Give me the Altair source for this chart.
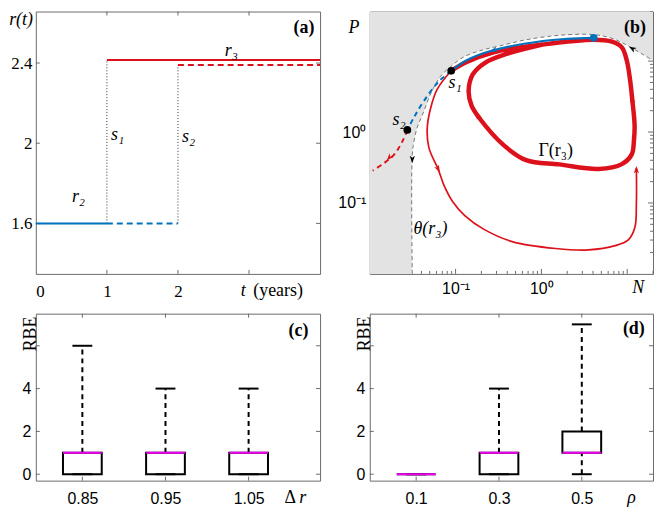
import altair as alt
import pandas as pd

SERIF = "'Liberation Serif', 'Times New Roman', serif"
SANS = "'Liberation Sans', Arial, sans-serif"
BLUE = "#0072BD"
RED = "#DD111B"
MAGENTA = "#F000F0"
FRAME = "#6b6b6b"
SHADE = "#E3E3E3"
W_L, W_R = 286, 285
H_TOP, H_BOT = 264, 168
TICK = 4

# ---------------- panel (a): r(t) ----------------
A_T_START = 0.0
A_T_S1 = 1.0
A_T_S2 = 2.0
A_T_END = 4.0
A_R2 = 1.6
A_R3_S1 = 2.415
A_R3_S2 = 2.39
A_XLABELS = [0, 1, 2]
A_XTICKS = [1, 2, 3]
A_YTICKS = [1.6, 2.0, 2.4]
A_NOTE = ["r₂", "s₁", "s₂", "r₃"]
A_NOTE_T = [0.60, 1.15, 2.15, 2.75]
A_NOTE_R = [1.734, 2.04, 2.03, 2.462]

# ---------------- panel (b): phase plane (N, P) ----------------
B_THETA_N = [0.0313, 0.0313, 0.0330, 0.0358, 0.0408, 0.0519, 0.0664, 0.0867, 0.124,
             0.192, 0.327, 0.664, 1.60, 3.94, 6.35, 9.46, 14.9, 20.0]
B_THETA_P = [0.0100, 0.484, 0.778, 1.17, 1.71, 3.57, 6.04, 8.28, 11.4,
             14.0, 16.4, 20.0, 23.1, 23.7, 21.3, 17.3, 12.6, 10.2]
B_BLUE_N = [4.07, 2.0, 1.04, 0.274, 0.135, 0.0889]
B_BLUE_P = [21.3, 20.6, 19.2, 14.2, 10.3, 7.3]
B_BLUEDASH_N = [0.0889, 0.0637, 0.0428, 0.0328, 0.0274]
B_BLUEDASH_P = [7.3, 5.16, 2.75, 1.62, 1.07]
B_REDDASH_N = [0.0274, 0.0240, 0.0193, 0.0145, 0.0108]
B_REDDASH_P = [1.07, 0.738, 0.484, 0.36, 0.286]
B_THIN_N = [0.0889, 0.0608, 0.0509, 0.0467, 0.0489, 0.0625, 0.0733, 0.0931, 0.128, 0.212,
            0.467, 1.47, 3.54, 7.25, 10.3, 12.3, 12.8, 12.8]
B_THIN_P = [7.3, 3.97, 2.11, 1.12, 0.598, 0.302, 0.177, 0.103, 0.0664, 0.0428,
            0.0283, 0.0228, 0.0218, 0.0250, 0.0302, 0.0455, 0.100, 0.31]
B_CYCLE_N = [0.0889, 0.135, 0.277, 1.03, 4.04, 6.64, 8.66, 9.89, 10.8, 11.5, 12.2, 12.0,
             11.3, 8.66, 4.65, 1.61, 0.664, 0.358, 0.192, 0.154, 0.142, 0.158, 0.218,
             0.391, 1.03]
B_CYCLE_P = [7.3, 9.7, 13.3, 17.1, 20.0, 18.8, 15.6, 10.2, 5.45, 2.75, 1.25, 0.778,
             0.484, 0.353, 0.302, 0.350, 0.401, 0.664, 1.54, 2.34, 3.77, 6.44, 9.40,
             12.6, 17.1]
B_SWITCH_N = [0.0889, 0.0274]
B_SWITCH_P = [7.3, 1.07]
B_EQ_N = [4.07]
B_EQ_P = [21.3]
B_ARROW_N = [0.192, 11.5, 0.0625, 12.8, 0.277, 0.0169, 0.0313, 11.5]
B_ARROW_P = [1.54, 2.90, 0.302, 0.292, 14.2, 0.436, 0.414, 15.0]
B_ARROW_ANGLE = [140, 355, 153, 0, 254, 220, 180, 300]
B_ARROW_KIND = ["red", "red", "red", "red", "blue", "red", "black", "black"]
B_MAJOR = [0.1, 1, 10]
B_MINOR_X = [k * 10.0 ** e for e in (-2, -1, 0, 1) for k in range(2, 10) if k * 10.0 ** e <= 20]
B_MINOR_Y = [k * 10.0 ** e for e in (-2, -1, 0, 1) for k in range(2, 10) if k * 10.0 ** e <= 50]

# ---------------- panels (c), (d): box plots of RBE ----------------
C_LABELS = ["0.85", "0.95", "1.05"]
C_Q1 = [0, 0, 0]
C_MED = [1, 1, 1]
C_Q3 = [1, 1, 1]
C_LO = [0, 0, 0]
C_HI = [6, 4, 4]
D_LABELS = ["0.1", "0.3", "0.5"]
D_Q1 = [0, 0, 1]
D_MED = [0, 1, 1]
D_Q3 = [0, 1, 2]
D_LO = [0, 0, 0]
D_HI = [0, 4, 7]
BOX_POS = [1, 2, 3]
BOX_YTICKS = [0, 2, 4, 6]


def side_ticks(xvals, yvals, xenc, yenc, W, H, sides=("b", "t", "l", "r"), length=TICK):
    out = []
    dfx = pd.DataFrame({"v": xvals})
    dfy = pd.DataFrame({"v": yvals})
    if "b" in sides:
        out.append(alt.Chart(dfx).mark_rule(color=FRAME, strokeWidth=1).encode(
            x=xenc("v"), y=alt.value(H), y2=alt.value(H - length)))
    if "t" in sides:
        out.append(alt.Chart(dfx).mark_rule(color=FRAME, strokeWidth=1).encode(
            x=xenc("v"), y=alt.value(0), y2=alt.value(length)))
    if "l" in sides:
        out.append(alt.Chart(dfy).mark_rule(color=FRAME, strokeWidth=1).encode(
            y=yenc("v"), x=alt.value(0), x2=alt.value(length)))
    if "r" in sides:
        out.append(alt.Chart(dfy).mark_rule(color=FRAME, strokeWidth=1).encode(
            y=yenc("v"), x=alt.value(W), x2=alt.value(W - length)))
    return out


# ================= panel (a) =================
A_XS = alt.Scale(domain=[0, 4], nice=False, zero=False)
A_YS = alt.Scale(domain=[1.348, 2.657], nice=False, zero=False)
A_XAX = alt.Axis(values=A_XLABELS, title=None, labelFont=SERIF, labelFontSize=17,
                 labelPadding=10, labelAngle=0)
A_YAX = alt.Axis(values=A_YTICKS, title=None, format="~g", labelFont=SERIF,
                 labelFontSize=17, labelPadding=4)


def XA(f):
    return alt.X(f, type="quantitative", scale=A_XS, axis=A_XAX)


def YA(f):
    return alt.Y(f, type="quantitative", scale=A_YS, axis=A_YAX)


a_layers = side_ticks(A_XTICKS, A_YTICKS, XA, YA, W_L, H_TOP)
a_layers.append(alt.Chart(pd.DataFrame({
    "t": [A_T_S1, A_T_S2], "r": [A_R2, A_R2], "r2": [A_R3_S1, A_R3_S2]})).mark_rule(
    color="#333333", strokeWidth=1, strokeDash=[1, 2]).encode(x=XA("t"), y=YA("r"), y2="r2"))
a_layers.append(alt.Chart(pd.DataFrame({"t": [A_T_S1], "t2": [A_T_S2], "r": [A_R2]})).mark_rule(
    color=BLUE, strokeWidth=2, strokeDash=[6, 4]).encode(x=XA("t"), x2="t2", y=YA("r")))
a_layers.append(alt.Chart(pd.DataFrame({"t": [A_T_START], "t2": [A_T_S1], "r": [A_R2]})).mark_rule(
    color=BLUE, strokeWidth=2).encode(x=XA("t"), x2="t2", y=YA("r")))
a_layers.append(alt.Chart(pd.DataFrame({"t": [A_T_S2], "t2": [A_T_END], "r": [A_R3_S2]})).mark_rule(
    color=RED, strokeWidth=2, strokeDash=[6, 4]).encode(x=XA("t"), x2="t2", y=YA("r")))
a_layers.append(alt.Chart(pd.DataFrame({"t": [A_T_S1], "t2": [A_T_END], "r": [A_R3_S1]})).mark_rule(
    color=RED, strokeWidth=2).encode(x=XA("t"), x2="t2", y=YA("r")))
a_layers.append(alt.Chart(pd.DataFrame({"t": A_NOTE_T, "r": A_NOTE_R, "s": A_NOTE})).mark_text(
    font=SERIF, fontSize=18, fontStyle="italic").encode(x=XA("t"), y=YA("r"), text="s:N"))
a_layers.append(alt.Chart(pd.DataFrame({"t": [-0.04], "r": [2.616], "s": ["r(t)"]})).mark_text(
    font=SERIF, fontSize=18, fontStyle="italic", align="right").encode(x=XA("t"), y=YA("r"), text="s:N"))
a_layers.append(alt.Chart(pd.DataFrame({"t": [3.92], "r": [2.575], "s": ["(a)"]})).mark_text(
    font=SERIF, fontSize=18, fontWeight="bold", align="right").encode(x=XA("t"), y=YA("r"), text="s:N"))
a_layers.append(alt.Chart(pd.DataFrame({"t": [2.92], "r": [1.262], "s": ["t"]})).mark_text(
    font=SERIF, fontSize=18, fontStyle="italic").encode(x=XA("t"), y=YA("r"), text="s:N"))
a_layers.append(alt.Chart(pd.DataFrame({"t": [3.06], "r": [1.262], "s": ["(years)"]})).mark_text(
    font=SERIF, fontSize=18, align="left").encode(x=XA("t"), y=YA("r"), text="s:N"))
panel_a = alt.layer(*a_layers).properties(width=W_L, height=H_TOP)

# ================= panel (b) =================
B_XS = alt.Scale(type="log", domain=[0.01, 20], nice=False)
B_YS = alt.Scale(type="log", domain=[0.01, 50], nice=False)
SUP = "datum.value < 0.5 ? '10\u207b\u00b9' : '10\u2070'"
B_XAX = alt.Axis(values=[0.1, 1], title=None, labelExpr=SUP, labelFont=SANS,
                 labelFontSize=16, labelPadding=7, labelAngle=0)
B_YAX = alt.Axis(values=[0.1, 1], title=None, labelExpr=SUP, labelFont=SANS,
                 labelFontSize=16, labelPadding=4)


def XB(f):
    return alt.X(f, type="quantitative", scale=B_XS, axis=B_XAX)


def YB(f):
    return alt.Y(f, type="quantitative", scale=B_YS, axis=B_YAX)


def path_df(ns, ps):
    return pd.DataFrame({"n": ns, "p": ps, "i": list(range(len(ns)))})


b_layers = []
b_layers += side_ticks(B_MAJOR, B_MAJOR, XB, YB, W_R, H_TOP, sides=("b", "r"), length=5)
b_layers += side_ticks(B_MINOR_X, B_MINOR_Y, XB, YB, W_R, H_TOP, sides=("b", "r"), length=3)
area_df = pd.DataFrame({"n": [0.01, 0.0312] + B_THETA_N[1:],
                        "p": [0.01, 0.01] + B_THETA_P[1:]})
area_df["top"] = 50.0
b_layers.append(alt.Chart(area_df).mark_area(color=SHADE, interpolate="monotone", clip=True).encode(
    x=XB("n"), y=YB("p"), y2="top"))
b_layers.append(alt.Chart(path_df(B_THETA_N, B_THETA_P)).mark_line(
    color="#777777", strokeWidth=1, strokeDash=[4, 3], interpolate="catmull-rom").encode(
    x=XB("n"), y=YB("p"), order="i:Q"))
b_layers.append(alt.Chart(path_df(B_THIN_N, B_THIN_P)).mark_line(
    color=RED, strokeWidth=1.7, interpolate="catmull-rom").encode(x=XB("n"), y=YB("p"), order="i:Q"))
b_layers.append(alt.Chart(path_df(B_CYCLE_N, B_CYCLE_P)).mark_line(
    color=RED, strokeWidth=4.5, interpolate="catmull-rom").encode(x=XB("n"), y=YB("p"), order="i:Q"))
b_layers.append(alt.Chart(path_df(B_REDDASH_N, B_REDDASH_P)).mark_line(
    color=RED, strokeWidth=2, strokeDash=[5, 4], interpolate="catmull-rom").encode(
    x=XB("n"), y=YB("p"), order="i:Q"))
b_layers.append(alt.Chart(path_df(B_BLUEDASH_N, B_BLUEDASH_P)).mark_line(
    color=BLUE, strokeWidth=2, strokeDash=[5, 4], interpolate="catmull-rom").encode(
    x=XB("n"), y=YB("p"), order="i:Q"))
b_layers.append(alt.Chart(path_df(B_BLUE_N, B_BLUE_P)).mark_line(
    color=BLUE, strokeWidth=2.2, interpolate="catmull-rom").encode(x=XB("n"), y=YB("p"), order="i:Q"))
ARROW = "M0,-1L0.7,0.9L0,0.35L-0.7,0.9Z"
arrow_df = pd.DataFrame({"n": B_ARROW_N, "p": B_ARROW_P, "a": B_ARROW_ANGLE, "k": B_ARROW_KIND})
for kind, col in (("red", RED), ("blue", BLUE), ("black", "black")):
    b_layers.append(alt.Chart(arrow_df).transform_filter(alt.datum.k == kind).mark_point(
        shape=ARROW, filled=True, color=col, size=60, opacity=1).encode(
        x=XB("n"), y=YB("p"), angle=alt.Angle("a:Q", scale=None)))
b_layers.append(alt.Chart(pd.DataFrame({"n": B_SWITCH_N, "p": B_SWITCH_P})).mark_circle(
    color="black", size=60, opacity=1).encode(x=XB("n"), y=YB("p")))
b_layers.append(alt.Chart(pd.DataFrame({"n": B_EQ_N, "p": B_EQ_P})).mark_circle(
    color=BLUE, size=60, opacity=1).encode(x=XB("n"), y=YB("p")))
b_layers.append(alt.Chart(pd.DataFrame({
    "n": [0.0989, 0.0220, 0.0509, 0.00653, 13.4],
    "p": [4.89, 1.49, 0.0431, 29.2, 0.0064],
    "s": ["s₁", "s₂", "θ(r₃)", "P", "N"]})).mark_text(
    font=SERIF, fontSize=18, fontStyle="italic").encode(x=XB("n"), y=YB("p"), text="s:N"))
b_layers.append(alt.Chart(pd.DataFrame({"n": [1.47], "p": [0.537], "s": ["Γ(r₃)"]})).mark_text(
    font=SERIF, fontSize=18).encode(x=XB("n"), y=YB("p"), text="s:N"))
b_layers.append(alt.Chart(pd.DataFrame({"n": [16.5], "p": [29.2], "s": ["(b)"]})).mark_text(
    font=SERIF, fontSize=18, fontWeight="bold", align="right").encode(x=XB("n"), y=YB("p"), text="s:N"))
panel_b = alt.layer(*b_layers).properties(width=W_R, height=H_TOP)


# ================= panels (c), (d) =================
def box_panel(labels, q1, med, q3, lo, hi, W, letter, letter_x, letter_y, xsym):
    xs = alt.Scale(domain=[0.5, 3.8], nice=False, zero=False)
    ys = alt.Scale(domain=[-0.3, 7.5], nice=False, zero=False)
    xax = alt.Axis(values=BOX_POS, title=None, labelExpr=f"{labels}[datum.value - 1]",
                   labelFont=SANS, labelFontSize=16, labelPadding=10, labelAngle=0)
    yax = alt.Axis(values=[0, 2, 4], title=None, labelFont=SANS, labelFontSize=16, labelPadding=5)

    def X(f):
        return alt.X(f, type="quantitative", scale=xs, axis=xax)

    def Y(f):
        return alt.Y(f, type="quantitative", scale=ys, axis=yax)

    df = pd.DataFrame({"pos": BOX_POS, "q1": q1, "med": med, "q3": q3, "lo": lo, "hi": hi})
    layers = side_ticks(BOX_POS, BOX_YTICKS, X, Y, W, H_BOT)
    layers.append(alt.Chart(df).mark_rule(color="black", strokeWidth=2, strokeDash=[5, 4]).encode(
        x=X("pos"), y=Y("q3"), y2="hi"))
    layers.append(alt.Chart(df).mark_rule(color="black", strokeWidth=2, strokeDash=[5, 4]).encode(
        x=X("pos"), y=Y("lo"), y2="q1"))
    layers.append(alt.Chart(df).mark_bar(orient="vertical", size=39, filled=False, color="black",
                                         strokeWidth=2).encode(x=X("pos"), y=Y("q1"), y2="q3"))
    layers.append(alt.Chart(df).mark_tick(orient="horizontal", size=20, thickness=2,
                                          color="black", opacity=1).encode(x=X("pos"), y=Y("hi")))
    layers.append(alt.Chart(df).mark_tick(orient="horizontal", size=20, thickness=2,
                                          color="black", opacity=1).encode(x=X("pos"), y=Y("lo")))
    layers.append(alt.Chart(df).mark_tick(orient="horizontal", size=39, thickness=2,
                                          color=MAGENTA, opacity=1).encode(x=X("pos"), y=Y("med")))
    layers.append(alt.Chart(pd.DataFrame({"x": [0.385], "y": [6.55], "s": ["RBE"]})).mark_text(
        font=SERIF, fontSize=18, angle=270).encode(x=X("x"), y=Y("y"), text="s:N"))
    layers.append(alt.Chart(pd.DataFrame({"x": [letter_x], "y": [letter_y], "s": [letter]})).mark_text(
        font=SERIF, fontSize=18, fontWeight="bold", align="right").encode(x=X("x"), y=Y("y"), text="s:N"))
    for txt, xv, style in xsym:
        layers.append(alt.Chart(pd.DataFrame({"x": [xv], "y": [-1.1], "s": [txt]})).mark_text(
            font=SERIF, fontSize=18, fontStyle=style).encode(x=X("x"), y=Y("y"), text="s:N"))
    return alt.layer(*layers).properties(width=W, height=H_BOT)


panel_c = box_panel(C_LABELS, C_Q1, C_MED, C_Q3, C_LO, C_HI, W_L, "(c)", 3.72, 6.70,
                    [("Δ", 3.50, "normal"), ("r", 3.65, "italic")])
panel_d = box_panel(D_LABELS, D_Q1, D_MED, D_Q3, D_LO, D_HI, W_R, "(d)", 3.76, 6.79,
                    [("ρ", 3.60, "italic")])

chart = alt.concat(panel_a, panel_b, panel_c, panel_d, columns=2,
                   spacing={"row": 40, "column": 50}, bounds="flush").properties(
    padding={"left": 0, "top": 0, "right": 0, "bottom": 0}
).configure_view(stroke=FRAME, strokeWidth=1).configure_axis(
    grid=False, ticks=False, domain=False, labelColor="black")

chart.save("out.html", embed_options={"renderer": "svg", "actions": False})
